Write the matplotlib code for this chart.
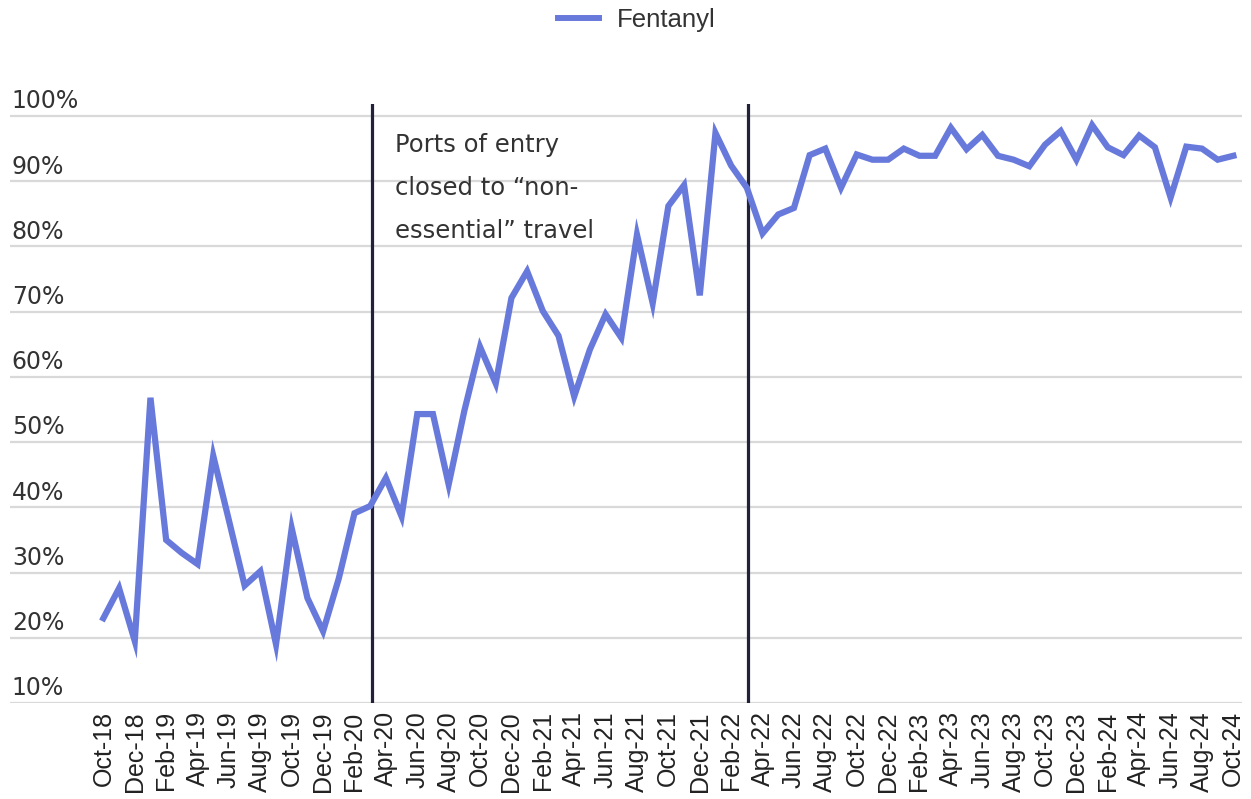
import matplotlib

matplotlib.use("Agg")

import matplotlib.pyplot as plt
from matplotlib.lines import Line2D
from matplotlib.transforms import blended_transform_factory

# month labels, Oct-18 .. Oct-24
MONTHS = ["Oct-18", "Nov-18", "Dec-18",
          "Jan-19", "Feb-19", "Mar-19", "Apr-19", "May-19", "Jun-19",
          "Jul-19", "Aug-19", "Sep-19", "Oct-19", "Nov-19", "Dec-19",
          "Jan-20", "Feb-20", "Mar-20", "Apr-20", "May-20", "Jun-20",
          "Jul-20", "Aug-20", "Sep-20", "Oct-20", "Nov-20", "Dec-20",
          "Jan-21", "Feb-21", "Mar-21", "Apr-21", "May-21", "Jun-21",
          "Jul-21", "Aug-21", "Sep-21", "Oct-21", "Nov-21", "Dec-21",
          "Jan-22", "Feb-22", "Mar-22", "Apr-22", "May-22", "Jun-22",
          "Jul-22", "Aug-22", "Sep-22", "Oct-22", "Nov-22", "Dec-22",
          "Jan-23", "Feb-23", "Mar-23", "Apr-23", "May-23", "Jun-23",
          "Jul-23", "Aug-23", "Sep-23", "Oct-23", "Nov-23", "Dec-23",
          "Jan-24", "Feb-24", "Mar-24", "Apr-24", "May-24", "Jun-24",
          "Jul-24", "Aug-24", "Sep-24", "Oct-24"]

# share (%)
FENTANYL = [23.0, 27.6, 19.5,
            56.8, 35.0, 33.0, 31.3, 47.9, 38.0,
            28.0, 30.2, 19.0, 36.8, 26.1, 21.0,
            29.1, 39.1, 40.2, 44.5, 38.6, 54.3,
            54.3, 43.5, 54.8, 64.6, 59.0, 72.1,
            76.2, 70.1, 66.3, 57.0, 64.2, 69.6,
            66.0, 81.8, 71.3, 86.2, 89.4, 72.5,
            97.4, 92.4, 89.0, 82.0, 84.9, 85.9,
            94.0, 95.0, 89.0, 94.1, 93.3, 93.3,
            95.0, 93.9, 93.9, 98.2, 94.9, 97.1,
            93.9, 93.3, 92.3, 95.6, 97.7, 93.3,
            98.6, 95.2, 94.0, 97.0, 95.2, 87.5,
            95.3, 95.0, 93.3, 93.9]

EVENT_MONTHS = ["Mar-20", "Mar-22"]
Y_TICKS = [10, 20, 30, 40, 50, 60, 70, 80, 90, 100]

LINE_COLOR = "#6879DC"
GRID_COLOR = "#D9D9D9"
TEXT_COLOR = "#333333"

fig = plt.figure(figsize=(12.51, 7.99), dpi=100)
ax = fig.add_axes([10 / 1251, 1 - 703 / 799, 1232 / 1251, 599 / 799])

x = list(range(len(MONTHS)))

for v in Y_TICKS:
    ax.axhline(v, color=GRID_COLOR, linewidth=1.6, zorder=1)

trans = blended_transform_factory(ax.transAxes, ax.transData)
for v in Y_TICKS:
    ax.annotate(f"{v}%", xy=(0.0015, v), xycoords=trans, xytext=(0, 5.5),
                textcoords="offset points", ha="left", va="baseline",
                fontsize=17, color=TEXT_COLOR, family="DejaVu Sans")

for m in EVENT_MONTHS:
    ax.axvline(MONTHS.index(m) + 0.1, color="#22213A", linewidth=2.3, zorder=2)

ax.plot(x, FENTANYL, color=LINE_COLOR, linewidth=4.5, solid_joinstyle="miter",
        zorder=3)

ax.text(MONTHS.index("Mar-20") + 1.6, 97.4,
        "Ports of entry\nclosed to \u201cnon-\nessential\u201d travel",
        ha="left", va="top", fontsize=17.5, color=TEXT_COLOR,
        family="DejaVu Sans", linespacing=2.0, zorder=4)

ax.set_xlim(-5.95, 72.55)
ax.set_ylim(10, 101.84)
ax.set_xticks(x[::2])
ax.set_xticklabels(MONTHS[::2], rotation=90, fontsize=18,
                   family="Liberation Sans", color="#222222")
ax.tick_params(axis="x", length=0, pad=6)
ax.set_yticks([])
for s in ax.spines.values():
    s.set_visible(False)

handle = Line2D([], [], color=LINE_COLOR, linewidth=4.3)
fig.legend([handle], ["Fentanyl"], loc="center", bbox_to_anchor=(0.509, 0.975),
           frameon=False, handlelength=1.6, handletextpad=0.7,
           prop={"family": "Liberation Sans", "size": 18.5},
           labelcolor=TEXT_COLOR)

fig.savefig("out.png", dpi=100)
